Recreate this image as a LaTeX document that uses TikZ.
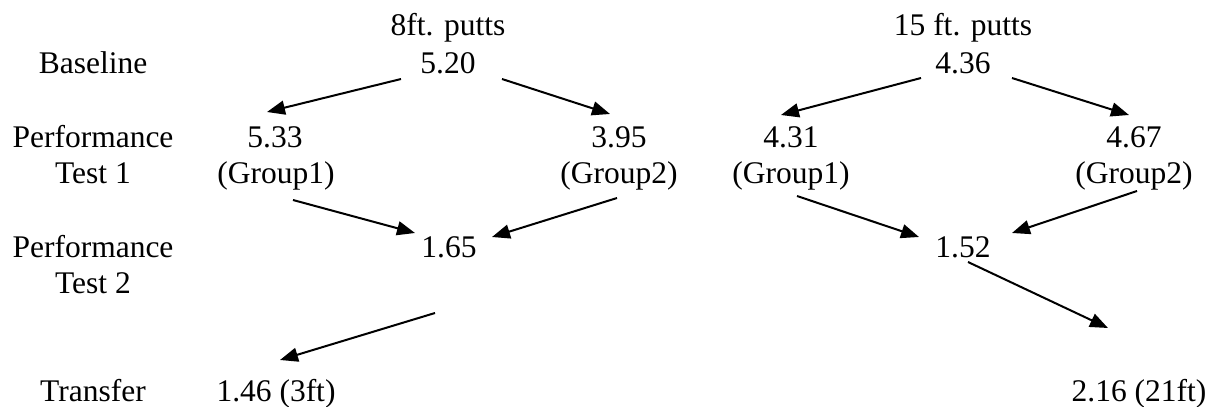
\documentclass[tikz,border=0pt]{standalone}
\usepackage{fontspec}
\setmainfont{Liberation Serif}
\usetikzlibrary{arrows.meta}
\begin{document}
\begin{tikzpicture}[x=1pt,y=-1pt,
  lbl/.style={anchor=base,inner sep=0pt,font=\fontsize{31.5}{36}\selectfont},
  arr/.style={line width=2pt,-{Triangle[length=18pt,width=14pt]}}]
\useasboundingbox (0,0) rectangle (1208,407);
% row labels
\node[lbl] (lbase) at (93,73) {Baseline};
\node[lbl] (lpa) at (93,147) {Performance};
\node[lbl] (lpb) at (93,183) {Test 1};
\node[lbl] (lqa) at (93,257) {Performance};
\node[lbl] (lqb) at (93,293) {Test 2};
\node[lbl] (ltr) at (93,401) {Transfer};
% 8 ft. branch
\node[lbl] (h8) at (448,35) {8ft. putts};
\node[lbl] (b8) at (448,73) {5.20};
\node[lbl] (a1) at (275,147) {5.33};
\node[lbl] (a1g) at (276,183) {(Group1)};
\node[lbl] (a2) at (619,147) {3.95};
\node[lbl] (a2g) at (619,183) {(Group2)};
\node[lbl] (p8) at (449,257) {1.65};
\node[lbl] (t8) at (276,401) {1.46 (3ft)};
% 15 ft. branch
\node[lbl] (h15) at (963,35) {15 ft. putts};
\node[lbl] (b15) at (963,73) {4.36};
\node[lbl] (c1) at (791,147) {4.31};
\node[lbl] (c1g) at (791,183) {(Group1)};
\node[lbl] (c2) at (1134,147) {4.67};
\node[lbl] (c2g) at (1134,183) {(Group2)};
\node[lbl] (p15) at (963,257) {1.52};
\node[lbl] (t15) at (1139,401) {2.16 (21ft)};
% connectors
\draw[arr] ([shift={(-47,6)}]b8.base) -- ([shift={(-8,-35)}]a1.base);
\draw[arr] ([shift={(54,6)}]b8.base) -- ([shift={(-9,-33)}]a2.base);
\draw[arr] ([shift={(-42,5)}]b15.base) -- ([shift={(-10,-32)}]c1.base);
\draw[arr] ([shift={(49,5)}]b15.base) -- ([shift={(-5,-32)}]c2.base);
\draw[arr] ([shift={(17,17)}]a1g.base) -- ([shift={(-34,-24)}]p8.base);
\draw[arr] ([shift={(-2,15)}]a2g.base) -- ([shift={(43,-20)}]p8.base);
\draw[arr] ([shift={(6,13)}]c1g.base) -- ([shift={(-44,-20)}]p15.base);
\draw[arr] ([shift={(3,8)}]c2g.base) -- ([shift={(49,-24)}]p15.base);
\draw[arr] ([shift={(-14,56)}]p8.base) -- ([shift={(4,-41)}]t8.base);
\draw[arr] ([shift={(5,5)}]p15.base) -- ([shift={(-31,-73)}]t15.base);
\end{tikzpicture}
\end{document}
